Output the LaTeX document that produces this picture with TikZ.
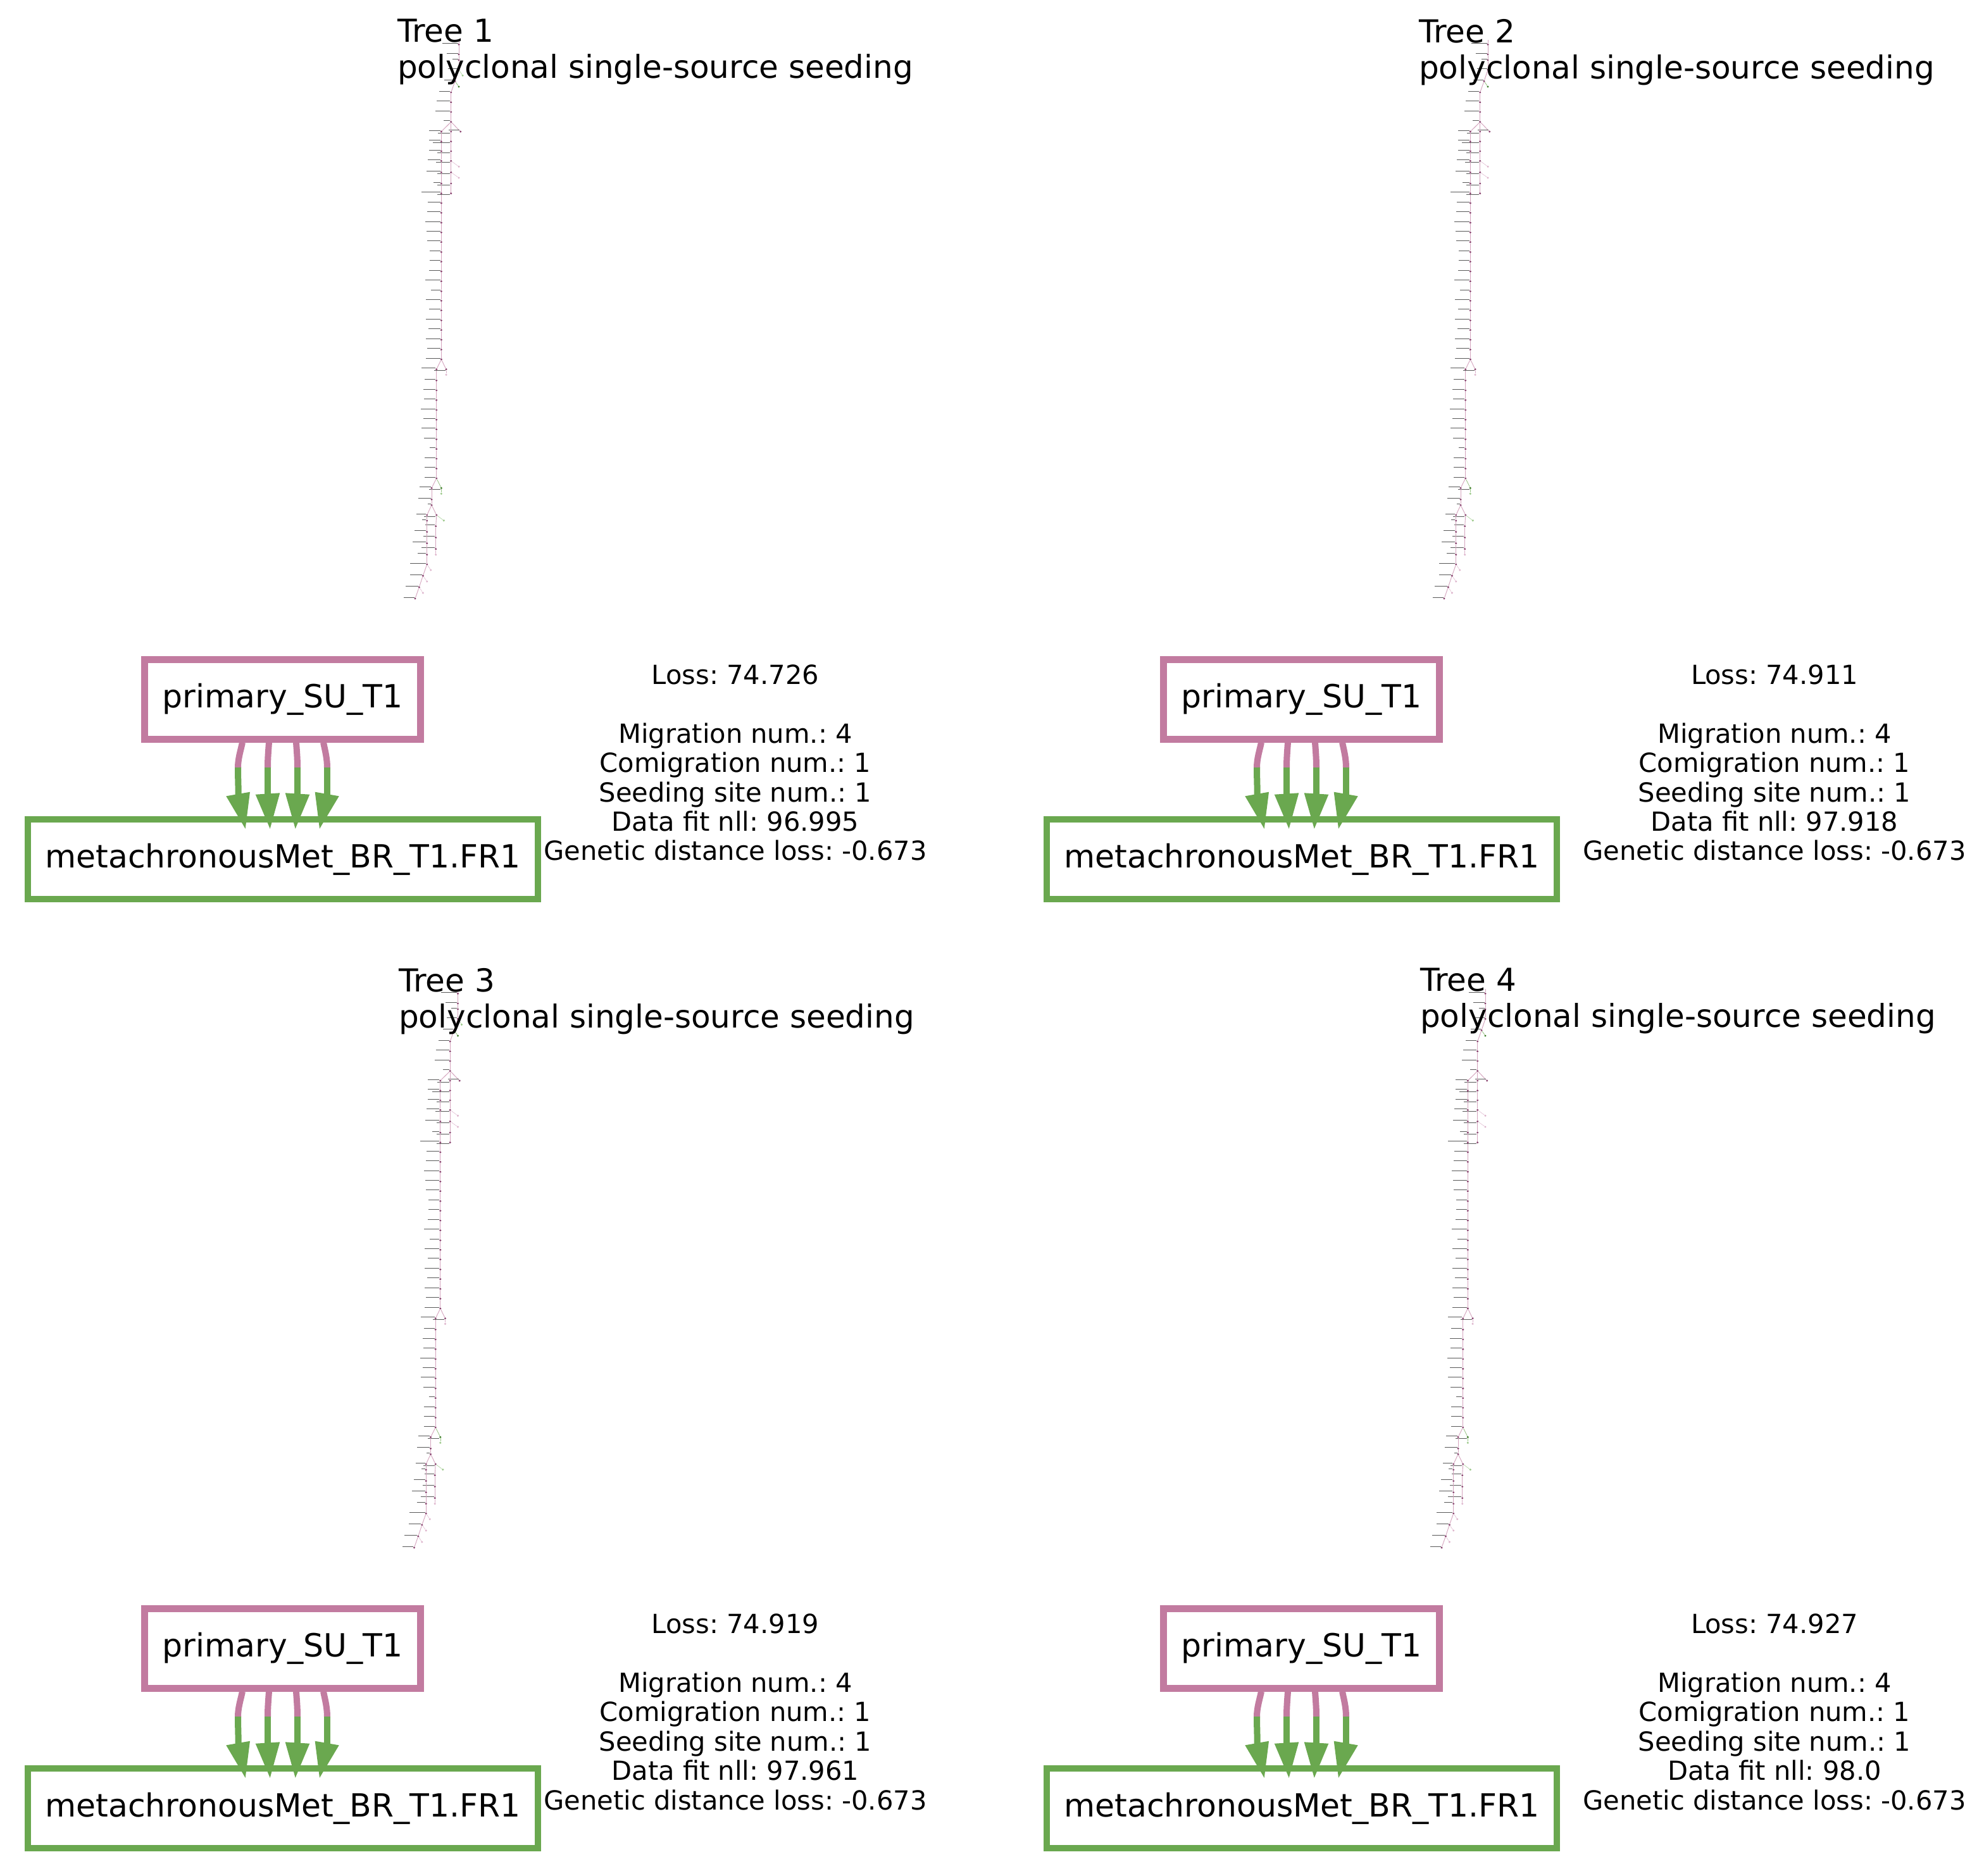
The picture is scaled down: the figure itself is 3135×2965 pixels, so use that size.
\documentclass[tikz,border=0pt]{standalone}
\usepackage{fontspec}
\setmainfont{DejaVu Sans}
\definecolor{sitepink}{HTML}{C27BA0}
\definecolor{sitegreen}{HTML}{6AA84F}
\definecolor{dotpink}{HTML}{8A4470}
\definecolor{dotgreen}{HTML}{3F7F2A}
\definecolor{palepink}{HTML}{DDB4CC}
\definecolor{palegreen}{HTML}{9CC98A}
\tikzset{
  x=1pt,y=-1pt,
  sitebox/.style={draw=#1,line width=10.5pt,fill=white,rectangle,inner sep=0pt,minimum height=126pt,font=\fontsize{50.4}{50}\selectfont},
  titletext/.style={anchor=north west,align=left,inner sep=0pt,font=\fontsize{50}{57}\selectfont},
  scoretext/.style={anchor=north,align=center,inner sep=0pt,font=\frenchspacing\fontsize{41.6}{46.4}\selectfont},
  dot p/.style={circle,inner sep=0pt,minimum size=3.4pt,fill=dotpink},
  dot q/.style={circle,inner sep=0pt,minimum size=3.4pt,fill=palepink},
  dot g/.style={circle,inner sep=0pt,minimum size=3.4pt,fill=dotgreen},
  dot h/.style={circle,inner sep=0pt,minimum size=3.4pt,fill=palegreen},
  edge p/.style={draw=sitepink!70,line width=0.9pt},
  edge q/.style={draw=palepink,line width=0.5pt},
  edge g/.style={draw=sitegreen!80,line width=0.7pt},
  edge h/.style={draw=palegreen,line width=0.5pt},
  smear/.style={draw=black!65,line width=0.8pt},
}
\newcommand{\seedarrow}[9]{%
  \draw[sitepink,line width=10pt] ([xshift=#1pt]pb.south) .. controls ++(#9,14) and (446.5+#2,1199) .. (446.5+#2,1213.5);
  \draw[sitegreen,line width=10pt] (446.5+#2,1213) .. controls (446.5+#2,1228) and (446.5+#8,1242) .. (446.5+#8,1258);
  \fill[sitegreen] (446.5+#3,#5) -- (446.5+#4,#6) -- ([xshift=#7pt,yshift=-20pt]gb.north) -- cycle;
}
\newcommand{\drawtree}[2]{%
  \coordinate (#1-root) at (725,63);
  \foreach \n/\x/\y/\prt/\k/\w/\d in {
    a1/725/70.3/root/p/25/-2, a2/725/86/a1/p/18/-2, a3/725/95/a2/p/9/-2, a4/725/110.3/a3/p/16/-2,
    a6/719/128.3/a4/p/16/-2, a7/725/137/a6/g/0/0, a8/712.7/146/a6/p/17/-2, a9/712.7/161.7/a8/p/21/-2,
    a10/712.7/177/a9/p/23/-2, a11/712.7/192.7/a10/p/10/-2,
    r0/727.7/208/a11/p/17/-3, m0/712.7/208/a11/p/19/2,
    m1/712.7/223.7/m0/p/27/2, m2/712.7/239/m1/p/20/2, m3/712.7/254.3/m2/p/22/2, m3c/725/263.3/m3/q/0/0,
    m4/712.7/272.3/m3/p/20/2, m4c/725/281/m4/q/0/0, m5/712.7/290/m4/p/20/2, m6/712.7/305.7/m5/p/20/2,
    l0/697.3/208/a11/p/18/-2, l1/697.3/223.7/l0/p/18/-2, l2/697.3/239/l1/p/18/-2, l3/697.3/254.3/l2/p/20/-2,
    l4/697.3/272.3/l3/p/22/-2, l5/697.3/290/l4/p/11/-2, l6/697.3/305.7/l5/p/30/-2, l7/697.3/321/l6/p/20/-2,
    l8/697.3/336.3/l7/p/21/-2, l9/697.3/352/l8/p/24/-2, l10/697.3/367.3/l9/p/22/-2, l11/697.3/382.7/l10/p/21/-2,
    l12/697.3/398.3/l11/p/17/-2, l13/697.3/413.7/l12/p/17/-2, l14/697.3/429/l13/p/18/-2, l15/697.3/444.7/l14/p/24/-2,
    l16/697.3/460.3/l15/p/15/-2, l17/697.3/475.3/l16/p/23/-2, l18/697.3/490.7/l17/p/18/-2, l19/697.3/506.3/l18/p/23/-2,
    l20/697.3/521.7/l19/p/19/-2, l21/697.3/537/l20/p/23/-2, l22/697.3/552.7/l21/p/21/-2, l23/697.3/568/l22/p/23/-2,
    s0/705/583.7/l23/p/18/2, s1/705/592.3/s0/q/0/0,
    c0/689.7/583.7/l23/p/22/-2, c1/689.7/601.3/c0/p/17/-2, c2/689.7/617/c1/p/19/-2, c3/689.7/632.3/c2/p/18/-2,
    c4/689.7/648/c3/p/23/-2, c5/689.7/663.3/c4/p/19/-2, c6/689.7/678.7/c5/p/22/-2, c7/689.7/694.3/c6/p/18/-2,
    c8/689.7/709.7/c7/p/9/-2, c9/689.7/725/c8/p/17/-2, c10/689.7/740.7/c9/p/17/-2, c11/689.7/756/c10/p/17/-2,
    d0/697.3/771.3/c11/g/18/2, d1/697.3/780.3/d0/h/0/0,
    e0/682/771.3/c11/p/18/-2, e1/682/789.3/e0/p/20/-2, e2/682/798.3/e1/p/5/-2,
    f0/689.7/814/e2/p/18/2, f0c/701.3/822.7/f0/h/0/0, f1/688.7/831.7/f0/p/15/-2, f2/688.7/849.7/f1/p/18/-2,
    f3/688.7/867.7/f2/p/21/-2, f4/688.7/876.7/f3/q/0/0,
    k0/674.7/814/e2/p/15/-2, k1/674.7/823/k0/p/6/-2, k2/674.7/840.7/k1/p/18/-2, k3/674.7/858.7/k2/p/21/-2,
    k4/674.7/876.7/k3/p/13/-2, k5/674.7/892/k4/p/25/-2, k5c/680.7/901/k5/q/0/0,
    k6/668.3/910/k5/p/19/-2, k6c/674.7/919/k6/q/0/0, k7/662.3/928/k6/p/20/-2, k7c/668.3/937/k7/q/0/0,
    k8/656/946/k7/p/17/-2%
  }{%
    \node[dot \k] (#1-\n) at (\x,\y) {};
    \draw[edge \k] (#1-\prt) -- (#1-\n);
    \ifnum\w>0
      \draw[smear] (\x-1.5-\w,\y+\d) -- (\x-1.5,\y+\d);
    \fi
  }%
  #2%
}
\newcommand{\extrachild}[1]{%
  \node[dot h] (#1-a5) at (731,119.3) {};
  \draw[edge h] (#1-a4) -- (#1-a5);%
}
\newcommand{\panel}[8]{%
  \begin{scope}[shift={(#2)}]
    \drawtree{#1}{#8}
  \end{scope}
  \begin{scope}[shift={(#4)}]
    \node[titletext] (#1-title) at (628,30) {Tree #5\\polyclonal single-source seeding};
  \end{scope}
  \begin{scope}[shift={(#3)}]
    \node[sitebox=sitepink,minimum width=436pt] (pb) at (446.5,1105.25) {primary\_SU\_T1};
    \node[sitebox=sitegreen,minimum width=806pt] (gb) at (447,1358) {metachronousMet\_BR\_T1.FR1};
    \seedarrow{-63.5}{-70.5}{-89.2}{-51.5}{1258.3}{1251.7}{-59.3}{-69.8}{-3}
    \seedarrow{-21.5}{-23.5}{-42.8}{-4.2}{1255.7}{1253.3}{-20.3}{-23.5}{-1}
    \seedarrow{21.5}{23.5}{4.2}{42.8}{1253.3}{1255.7}{19.7}{23.5}{1}
    \seedarrow{64.5}{70.5}{51.2}{89.2}{1251.7}{1258.3}{58}{70.5}{3}
    \node[scoretext] (#1-score) at (\scorex,1050.5) {Loss: #6\\[46.4pt]Migration num.: 4\\Comigration num.: 1\\Seeding site num.: 1\\Data fit nll: #7\\Genetic distance loss: -0.673};
  \end{scope}
}
\begin{document}
\begin{tikzpicture}
\useasboundingbox[fill=white] (0,0) rectangle (3135,2965);
\def\scorex{1162}
\panel{t1}{0,0}{0,0}{0,0}{1}{74.726}{96.995}{\extrachild{t1}}
\def\scorex{1194}
\panel{t2}{1626,0}{1610,0}{1614,0}{2}{74.911}{97.918}{}
\def\scorex{1162}
\panel{t3}{-1.5,1500}{0,1500}{2,1500}{3}{74.919}{97.961}{\extrachild{t3}}
\def\scorex{1194}
\panel{t4}{1622,1500}{1610,1500}{1616,1500}{4}{74.927}{98.0}{}
\end{tikzpicture}
\end{document}
